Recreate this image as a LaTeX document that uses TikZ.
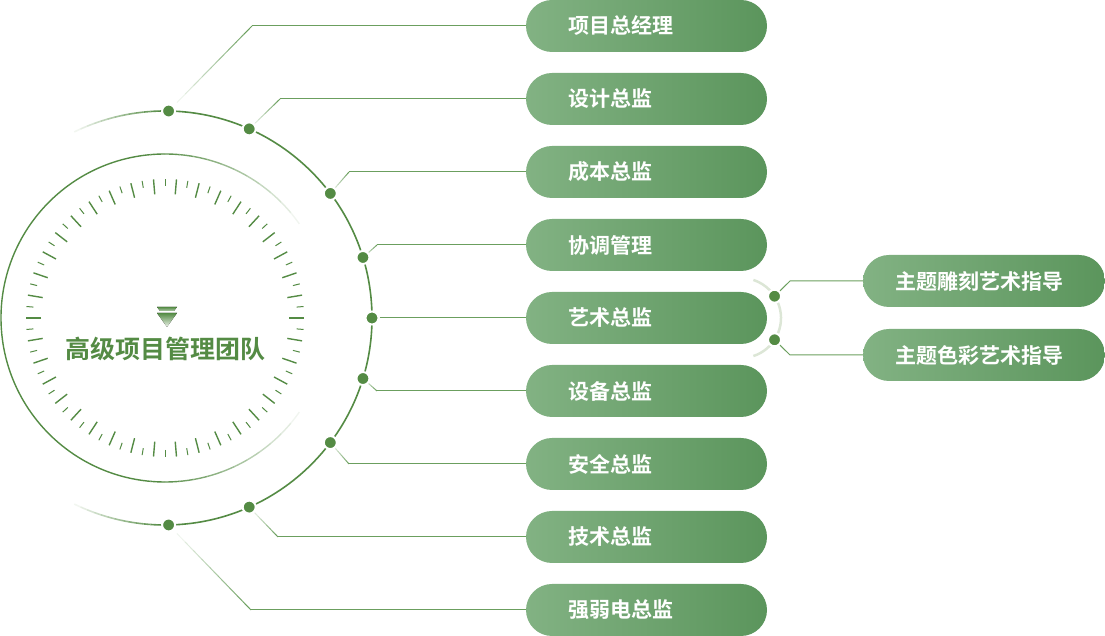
\documentclass[tikz,border=0pt]{standalone}
\usepackage{fontspec}
\newfontfamily\cjk{Noto Sans CJK SC}[BoldFont={Noto Sans CJK SC Bold}]
\usepackage{tikz}
\usetikzlibrary{shapes.geometric, arrows,positioning,calc}
\definecolor{deepgreen}{HTML}{548B44}
\definecolor{pillleft}{HTML}{82B283}
\definecolor{pillright}{HTML}{5B955C}
\definecolor{linegreen}{HTML}{6B9F5E}
\definecolor{ringgray}{HTML}{DCE6D6}
\pgfdeclarelayer{background}
\pgfsetlayers{background,main}

\begin{document}
\begin{tikzpicture}
[ x=1pt, y=1pt,
  pill/.style={ rounded corners=26pt, left color=pillleft, right color=pillright, draw=none, outer sep=0pt,
    minimum height=52pt, inner ysep=0pt, inner xsep=42pt, text width=157pt, align=left,
    text=white, font=\cjk\bfseries\fontsize{21}{21}\selectfont
    },
  subpill/.style={ pill, inner xsep=32pt, text width=178pt },
  dot/.style={ circle, fill=deepgreen, draw=white, line width=2pt, minimum size=13pt, inner sep=0pt },
  arcline/.style={ deepgreen, line width=1.6pt },
  conn/.style={ linegreen, line width=1pt },
  tick/.style={ deepgreen, line width=1.4pt }
]
%\draw[help lines] (0,0) grid[step=50] (1105,636);
\useasboundingbox (0,0) rectangle (1105,636);
\coordinate (O) at (165,318);

\node[pill] (p1) at (646.5,610) {项目总经理};
\node[pill, below=21pt of p1] (p2) {设计总监};
\node[pill, below=21pt of p2] (p3) {成本总监};
\node[pill, below=21pt of p3] (p4) {协调管理};
\node[pill, below=21pt of p4] (p5) {艺术总监};
\node[pill, below=21pt of p5] (p6) {设备总监};
\node[pill, below=21pt of p6] (p7) {安全总监};
\node[pill, below=21pt of p7] (p8) {技术总监};
\node[pill, below=21pt of p8] (p9) {强弱电总监};

\node[subpill] (q1) at (984,355) {主题雕刻艺术指导};
\node[subpill, below=22pt of q1] (q2) {主题色彩艺术指导};

\node[font=\cjk\bfseries\fontsize{25}{25}\selectfont, text=deepgreen] (title) at (165,287) {高级项目管理团队};
\fill[top color=deepgreen, bottom color=deepgreen!45] (157,329) -- (177,329) -- (174,325) -- (160,325) -- cycle;
\fill[top color=deepgreen, bottom color=deepgreen!10] (157,323) -- (177,323) -- (167,309) -- cycle;

% dial
\foreach \n in {0,...,37}{
    \draw[tick] ($(O)+({\n*360/38}:124)$) -- ($(O)+({\n*360/38}:139)$);
    \draw[tick, line width=1pt] ($(O)+({\n*360/38+360/76}:132)$) -- ($(O)+({\n*360/38+360/76}:139)$);
 }

% inner ring
\draw[arcline, line width=1.4pt] ($(O)+(95:164)$) arc (95:265:164);
\foreach \s in {0,...,11}{
    \pgfmathsetmacro\op{1-\s/12}
    \draw[arcline, line width=1.4pt, opacity=\op] ($(O)+({95-5*\s}:164)$) arc ({95-5*\s}:{90-5*\s}:164);
    \draw[arcline, line width=1.4pt, opacity=\op] ($(O)+({265+5*\s}:164)$) arc ({265+5*\s}:{270+5*\s}:164);
 }

% outer ring
\draw[arcline] ($(O)+(-90:207)$) arc (-90:90:207);
\foreach \s in {0,...,12}{
    \pgfmathsetmacro\op{1-\s/13}
    \draw[arcline, opacity=\op] ($(O)+({90+2*\s}:207)$) arc ({90+2*\s}:{92+2*\s}:207);
    \draw[arcline, opacity=\op] ($(O)+({-90-2*\s}:207)$) arc ({-90-2*\s}:{-92-2*\s}:207);
 }

\foreach \i/\ang in {1/89,2/66,3/37,4/17,5/0,6/-17,7/-37,8/-66,9/-89}{
    \node[dot] (d\i) at ($(O)+(\ang:207)$) {};
 }

% small ring at the art pill
\coordinate (S) at ($(p5.east)+(-26,0)$);
\draw[ringgray, line width=2.5pt] ($(S)+(-72:40)$) arc (-72:72:40);
\node[dot] (s1) at ($(S)+(33:40)$) {};
\node[dot] (s2) at ($(S)+(-33:40)$) {};

\begin{pgfonlayer}{background}
 \foreach \i/\kx in {1/252,2/280,3/349,4/377,6/377,7/349,8/278,9/251}{
    \path (p\i.west) ++({\kx-526},0) coordinate (k\i);
    \draw[conn] (k\i) -- (p\i.west);
    \foreach \t in {0,...,9}{
        \pgfmathsetmacro\op{\t/9}
        \draw[conn, opacity=\op] ($(d\i)!{\t/10}!(k\i)$) -- ($(d\i)!{(\t+1)/10}!(k\i)$);
     }
  }
 \draw[conn] (d5) -- (p5.west);
 \path (q1.west) ++(-73,0) coordinate (j1);
 \path (q2.west) ++(-73,0) coordinate (j2);
 \draw[conn] (s1) -- (j1) -- (q1.west);
 \draw[conn] (s2) -- (j2) -- (q2.west);
\end{pgfonlayer}
\end{tikzpicture}
\end{document}
